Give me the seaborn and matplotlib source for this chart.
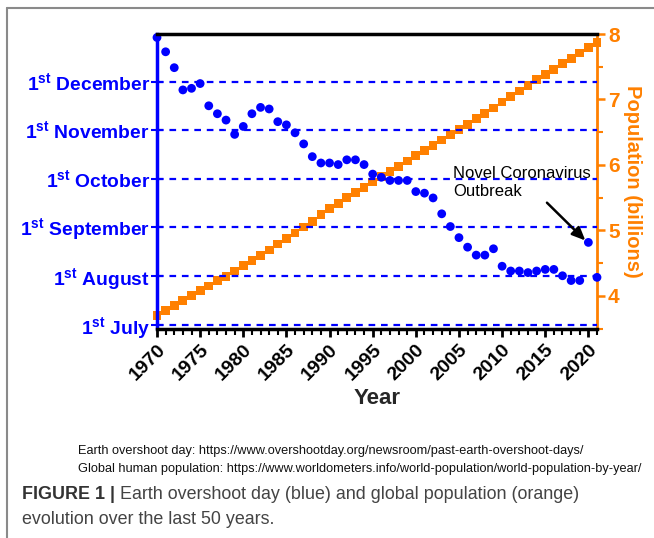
import numpy as np
import pandas as pd
import matplotlib
matplotlib.use("Agg")
import matplotlib.pyplot as plt
import seaborn as sns
from matplotlib.ticker import MultipleLocator, FixedLocator
from matplotlib.lines import Line2D

# ---------------- data ----------------
years = list(range(1970, 2022))
overshoot_dates = [
    "12-29", "12-20", "12-10", "11-26", "11-27", "11-30", "11-16", "11-11", "11-07", "10-29",
    "11-03", "11-11", "11-15", "11-14", "11-06", "11-04", "10-30", "10-23", "10-15", "10-11",
    "10-11", "10-10", "10-13", "10-13", "10-10", "10-04", "10-02", "09-30", "09-30", "09-30",
    "09-23", "09-22", "09-19", "09-09", "09-01", "08-25", "08-19", "08-14", "08-14", "08-18",
    "08-07", "08-04", "08-04", "08-03", "08-04", "08-05", "08-05", "08-01", "07-29", "07-29",
    "08-22", "07-31",
]
population_billions = [
    3.70, 3.78, 3.85, 3.93, 4.00, 4.08, 4.15, 4.23, 4.30, 4.38,
    4.46, 4.54, 4.62, 4.70, 4.79, 4.87, 4.96, 5.05, 5.14, 5.24,
    5.33, 5.41, 5.50, 5.58, 5.66, 5.74, 5.82, 5.90, 5.98, 6.06,
    6.14, 6.22, 6.30, 6.38, 6.46, 6.54, 6.62, 6.71, 6.79, 6.87,
    6.96, 7.04, 7.13, 7.21, 7.30, 7.38, 7.46, 7.55, 7.63, 7.71,
    7.79, 7.87,
]
month_tick_dates = ["07-01", "08-01", "09-01", "10-01", "11-01", "12-01"]
month_tick_labels = [r"1$^{\mathbf{st}}$ July", r"1$^{\mathbf{st}}$ August",
                     r"1$^{\mathbf{st}}$ September", r"1$^{\mathbf{st}}$ October",
                     r"1$^{\mathbf{st}}$ November", r"1$^{\mathbf{st}}$ December"]
year_ticks = list(range(1970, 2021, 5))
population_ticks = [4, 5, 6, 7, 8]
annotation_year = 2020
annotation_text = "Novel Coronavirus\nOutbreak"
source_lines = [
    "Earth overshoot day: https://www.overshootday.org/newsroom/past-earth-overshoot-days/",
    "Global human population: https://www.worldometers.info/world-population/world-population-by-year/",
]
caption_bold = "FIGURE 1 |"
caption_rest = " Earth overshoot day (blue) and global population (orange)"
caption_line2 = "evolution over the last 50 years."

# ---------------- style ----------------
sns.set_style("ticks")
plt.rcParams["font.family"] = ["Liberation Sans", "DejaVu Sans"]
plt.rcParams["mathtext.fontset"] = "custom"
plt.rcParams["mathtext.rm"] = "Liberation Sans"
plt.rcParams["mathtext.bf"] = "Liberation Sans:bold"

BLUE = "#0000ff"
ORANGE = "#ff8000"


def doy(md):
    return pd.Timestamp("2021-" + md).dayofyear


df = pd.DataFrame({
    "Year": years,
    "Day": [doy(d) for d in overshoot_dates],
    "Population": population_billions,
})

fig = plt.figure(figsize=(6.54, 5.38), dpi=100)
ax = fig.add_axes([157 / 654, 1 - 328.5 / 538, (597 - 157) / 654, (328.5 - 34) / 538])
ax2 = ax.twinx()
ax.set_zorder(ax2.get_zorder() + 1)
ax.patch.set_visible(False)

# orange population squares
sns.scatterplot(data=df, x="Year", y="Population", ax=ax2, marker="s", s=40,
                color=ORANGE, edgecolor="none", linewidth=0, clip_on=False, legend=False)
# blue overshoot dots
sns.scatterplot(data=df, x="Year", y="Day", ax=ax, marker="o", s=40,
                color=BLUE, edgecolor="none", linewidth=0, clip_on=False, legend=False)

ax.set_xlim(1970, 2021)
ax.set_ylim(179.8, 365.2)
ax2.set_ylim(3.5, 8.0)

# left axis
ytick_pos = [doy(d) for d in month_tick_dates]
ax.yaxis.set_major_locator(FixedLocator(ytick_pos))
ax.set_yticklabels(month_tick_labels, fontsize=13.9, fontweight="bold", color=BLUE)
ax.tick_params(axis="y", which="major", direction="inout", length=8, width=1.5,
               colors=BLUE, pad=1)
ax.yaxis.grid(True, color=BLUE, linestyle=(0, (3, 2.6)), linewidth=1.6)
ax.xaxis.grid(False)
ax.set_ylabel("")

# bottom axis
ax.xaxis.set_major_locator(FixedLocator(year_ticks))
ax.xaxis.set_minor_locator(MultipleLocator(1))
ax.set_xticklabels([str(y) for y in year_ticks], rotation=45, ha="right",
                   rotation_mode="anchor", fontsize=14, fontweight="bold")
ax.tick_params(axis="x", which="major", direction="out", length=6, width=2, colors="black", pad=3)
ax.tick_params(axis="x", which="minor", direction="out", length=4, width=1.5, colors="black")
ax.set_xlabel("Year", fontsize=16, fontweight="bold", labelpad=3)

# right axis
ax2.yaxis.set_major_locator(FixedLocator(population_ticks))
ax2.yaxis.set_minor_locator(MultipleLocator(0.5))
ax2.set_yticklabels([str(p) for p in population_ticks], fontsize=15, fontweight="bold", color=ORANGE)
ax2.tick_params(axis="y", which="major", direction="out", length=6, width=1.8, colors=ORANGE, pad=2)
ax2.tick_params(axis="y", which="minor", direction="out", length=4, width=1.5, colors=ORANGE)
ax2.set_ylabel("Population (billions)", rotation=270, fontsize=14.5, fontweight="bold",
               color=ORANGE, labelpad=16)
ax2.grid(False)

# spines
for s in ["left", "top", "bottom"]:
    ax2.spines[s].set_visible(False)
ax.spines["right"].set_visible(False)
ax.spines["left"].set_color(BLUE)
ax.spines["left"].set_linewidth(2.5)
ax.spines["top"].set_color("black")
ax.spines["top"].set_linewidth(2.5)
ax.spines["bottom"].set_color("black")
ax.spines["bottom"].set_linewidth(2.5)
ax2.spines["right"].set_color(ORANGE)
ax2.spines["right"].set_linewidth(2)

# annotation
ax.text(2004.3, 282, annotation_text, fontsize=12, ha="left", va="top", color="black",
        linespacing=1.2)
ann_day = doy(overshoot_dates[years.index(annotation_year)])
ax.annotate("", xy=(annotation_year - 0.35, ann_day + 1.2), xytext=(2015.2, 259),
            arrowprops=dict(arrowstyle="-|>,head_length=0.8,head_width=0.35",
                            color="black", lw=1.8, shrinkA=0, shrinkB=0))

# source lines
for i, line in enumerate(source_lines):
    fig.text(78 / 654, 1 - (451 + 18 * i) / 538, line, fontsize=9.15, color="#111111",
             ha="left", va="center")

# caption
t1 = fig.text(22 / 654, 1 - 499 / 538, caption_bold, fontsize=12.9, fontweight="bold",
              color="#333333", ha="left", va="baseline")
fig.canvas.draw()
bb = t1.get_window_extent()
fig.text(bb.x1 / fig.bbox.width, 1 - 499 / 538, caption_rest, fontsize=12.9,
         color="#444444", ha="left", va="baseline")
fig.text(22 / 654, 1 - 524 / 538, caption_line2, fontsize=12.9, color="#444444",
         ha="left", va="baseline")

# outer frame (left and top)
fig.add_artist(Line2D([7 / 654, 7 / 654], [0, 1 - 8 / 538], transform=fig.transFigure,
                      color="#8a8a8a", lw=1.5))
fig.add_artist(Line2D([7 / 654, 1], [1 - 8 / 538, 1 - 8 / 538], transform=fig.transFigure,
                      color="#8a8a8a", lw=1.5))

fig.savefig("out.png", dpi=100)
